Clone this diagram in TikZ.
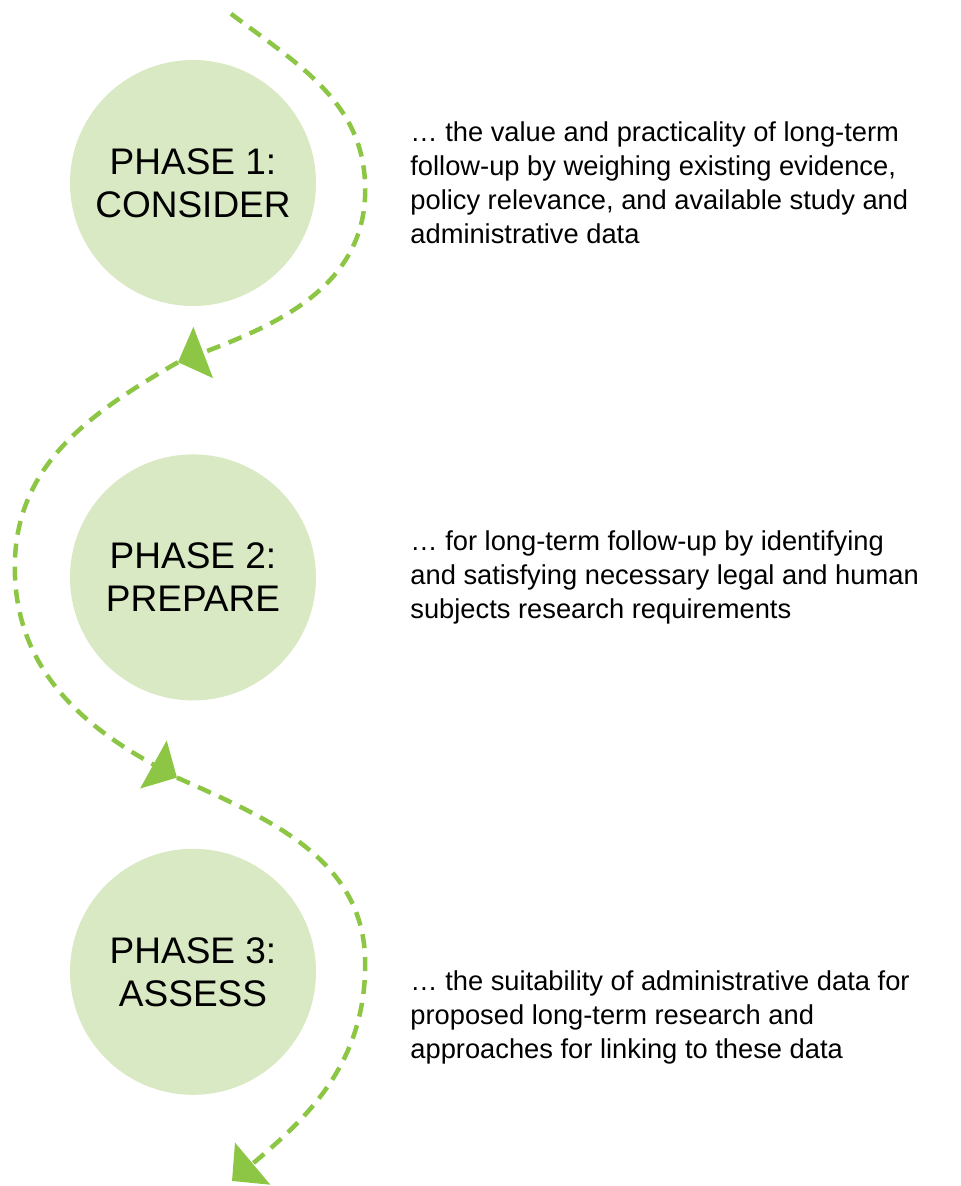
\documentclass[tikz,border=0pt]{standalone}
\usepackage{fontspec}
\setmainfont{Liberation Sans}
\usepackage{tikz}
\usetikzlibrary{arrows.meta, positioning, calc}
\definecolor{phasefill}{RGB}{217,233,195}
\definecolor{pathgreen}{RGB}{141,198,69}

\begin{document}
\begin{tikzpicture}[x=1pt, y=1pt, node distance=148pt,
	phase/.style={circle, fill=phasefill, minimum size=246pt, inner sep=0pt, align=center, font=\fontsize{37}{43}\selectfont},
	desc/.style={align=left, inner sep=0pt, font=\fontsize{27.3}{34}\selectfont},
	flow/.style={draw=pathgreen, line width=4.5pt, dash pattern=on 14pt off 9pt, -{Triangle[length=27pt, width=54pt]}}]
	\useasboundingbox (0,0) rectangle (961,-1186);
	\node[phase] (c1) at (193,-183) {PHASE 1:\\CONSIDER};
	\node[phase, below=of c1] (c2) {PHASE 2:\\PREPARE};
	\node[phase, below=of c2] (c3) {PHASE 3:\\ASSESS};
	\node[desc, right=94pt of c1] (t1) {… the value and practicality of long-term\\follow-up by weighing existing evidence,\\policy relevance, and available study and\\administrative data};
	\node[desc, right=94pt of c2] (t2) {… for long-term follow-up by identifying\\and satisfying necessary legal and human\\subjects research requirements};
	\node[desc, right=94pt of c3, yshift=-46pt] (t3) {… the suitability of administrative data for\\proposed long-term research and\\approaches for linking to these data};
	% turning points of the snake
	\coordinate (s) at ($(c1.north)+(38,46)$);
	\coordinate (r1) at ($(c1.east)+(49,-7)$);
	\coordinate (a1) at ($(c1.south)+(-15,-56)$);
	\coordinate (l2) at ($(c2.west)+(-55,10)$);
	\coordinate (a2) at ($(c2.south)+(-16,-77)$);
	\coordinate (r3) at ($(c3.east)+(49,8)$);
	\coordinate (e) at ($(c3.south)+(39,-86)$);
	\draw[flow] (s) to[out=-37,in=90] (r1) to[out=-90,in=21] (a1);
	\draw[flow] (a1) to[out=210,in=90] (l2) to[out=-90,in=151] (a2);
	\draw[flow] (a2) to[out=-24,in=90] (r3) to[out=-90,in=40] (e);
\end{tikzpicture}
\end{document}
